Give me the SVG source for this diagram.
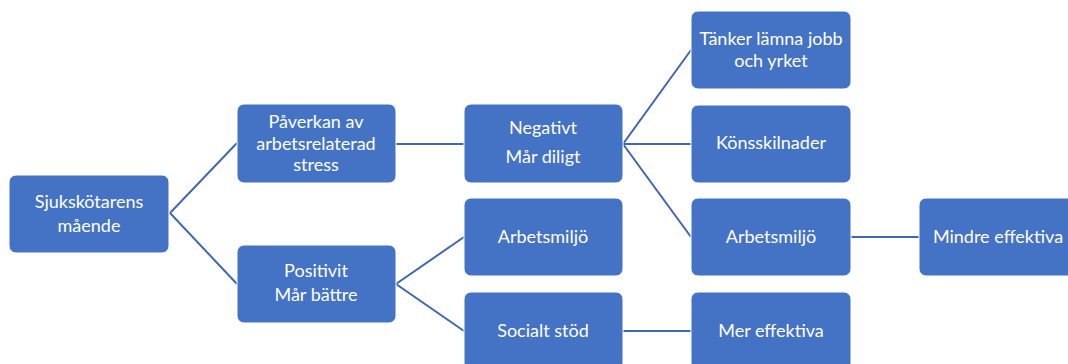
<svg xmlns="http://www.w3.org/2000/svg" width="1068" height="364" viewBox="0 0 1068 364">
<style>
.box{fill:#4472C4;stroke:#ffffff;stroke-width:1}
.t{font-family:Lato,"Noto Sans","DejaVu Sans",sans-serif;font-size:18px;fill:#ffffff;text-anchor:middle}
.c{stroke:#3F68B0;stroke-width:2;fill:none}
</style>
<rect width="1068" height="364" fill="#ffffff"/>
<g id="connectors">
<polyline class="c" points="237,143 170,213 237,284"/>
<line class="c" x1="396" y1="144" x2="464" y2="144"/>
<polyline class="c" points="464,237 396,284 464,331"/>
<polyline class="c" points="691,50 623,144 691,237"/>
<line class="c" x1="623" y1="144" x2="691" y2="144"/>
<line class="c" x1="851" y1="237" x2="919" y2="237"/>
<line class="c" x1="623" y1="331" x2="691" y2="331"/>
</g>
<g id="n1"><rect class="box" x="9" y="175" width="160" height="78" rx="7"/><text class="t" x="89" y="208">Sjukskötarens</text><text class="t" x="89" y="232">mående</text></g>
<g id="n2"><rect class="box" x="237" y="104" width="159" height="79" rx="7"/><text class="t" x="316" y="128">Påverkan av</text><text class="t" x="316" y="150">arbetsrelaterad</text><text class="t" x="316" y="171">stress</text></g>
<g id="n3"><rect class="box" x="237" y="245" width="159" height="78" rx="7"/><text class="t" x="316" y="277">Positivit</text><text class="t" x="316" y="301">Mår bättre</text></g>
<g id="n4"><rect class="box" x="464" y="104" width="159" height="79" rx="7"/><text class="t" x="543" y="134">Negativt</text><text class="t" x="543" y="163">Mår diligt</text></g>
<g id="n5"><rect class="box" x="464" y="198" width="159" height="78" rx="7"/><text class="t" x="543" y="243">Arbetsmiljö</text></g>
<g id="n6"><rect class="box" x="464" y="292" width="159" height="78" rx="7"/><text class="t" x="543" y="337">Socialt stöd</text></g>
<g id="n7"><rect class="box" x="691" y="11" width="160" height="78" rx="7"/><text class="t" x="771" y="45">Tänker lämna jobb</text><text class="t" x="771" y="67">och yrket</text></g>
<g id="n8"><rect class="box" x="691" y="105" width="160" height="78" rx="7"/><text class="t" x="771" y="149">Könsskilnader</text></g>
<g id="n9"><rect class="box" x="691" y="198" width="160" height="78" rx="7"/><text class="t" x="771" y="243">Arbetsmiljö</text></g>
<g id="n10"><rect class="box" x="691" y="292" width="160" height="78" rx="7"/><text class="t" x="771" y="337">Mer effektiva</text></g>
<g id="n11"><rect class="box" x="919" y="198" width="160" height="78" rx="7"/><text class="t" x="998" y="243">Mindre effektiva</text></g>
</svg>
